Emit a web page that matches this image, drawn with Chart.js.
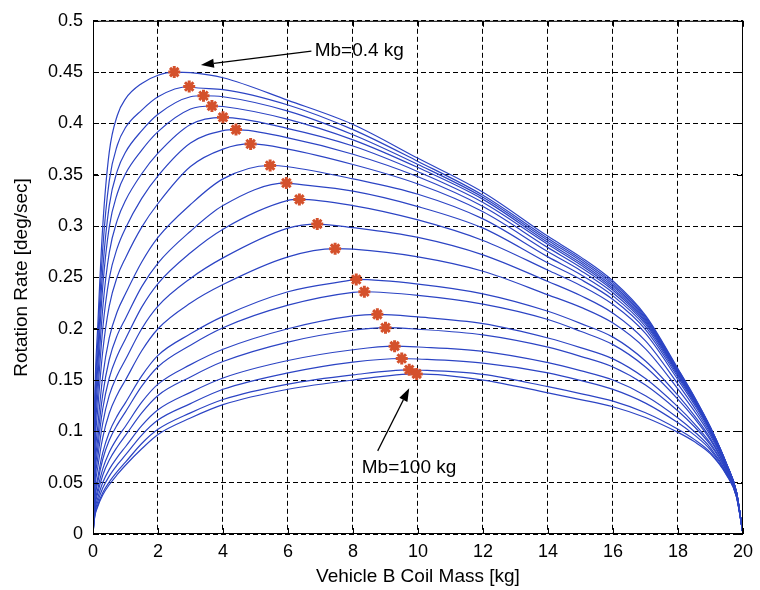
<!DOCTYPE html>
<html>
<head>
<meta charset="utf-8">
<script src="https://cdn.jsdelivr.net/npm/chart.js@4.4.1/dist/chart.umd.min.js"></script>
<style>
  html, body { margin: 0; padding: 0; background: #fff; }
  #wrap { width: 760px; height: 590px; }
</style>
</head>
<body>
<div id="wrap"><canvas id="chart"></canvas></div>
<script>
const coilMass = [0, 0.05, 0.15, 0.3, 0.5, 0.75, 1, 1.5, 2, 3, 4, 6, 8, 10, 12, 14, 15, 16, 17, 18, 18.5, 19, 19.5, 19.8, 20];

// rotation rate [deg/sec], one row per Mb curve (Mb = 0.4 kg at top ... 100 kg at bottom)
const rates = [
  [0, .125, .205, .300, .372, .408, .424, .439, .447, .4495, .4445, .4225, .399, .366, .333, .290, .270, .2465, .213, .161, .134, .104, .068, .041, 0],
  [0, .116, .190, .278, .344, .379, .396, .413, .426, .4355, .433, .418, .394, .363, .330, .288, .2681, .2447, .2117, .1603, .1335, .1037, .0679, .0409, 0],
  [0, .1075, .177, .258, .320, .354, .372, .393, .409, .426, .426, .412, .389, .360, .328, .286, .2662, .2429, .2103, .1595, .1329, .1034, .0677, .0408, 0],
  [0, .100, .165, .241, .299, .332, .351, .374, .392, .414, .4165, .404, .384, .357, .326, .284, .2642, .2411, .209, .1586, .1323, .103, .0676, .0408, 0],
  [0, .092, .1515, .220, .274, .306, .325, .351, .371, .399, .406, .395, .378, .353, .323, .282, .2623, .2392, .2076, .1578, .1317, .1026, .0674, .0407, 0],
  [0, .0834, .1377, .200, .249, .279, .298, .327, .349, .381, .393, .386, .370, .348, .319, .279, .2599, .2374, .2062, .1569, .1311, .1023, .0673, .0407, 0],
  [0, .0745, .123, .178, .222, .251, .269, .299, .322, .358, .375, .375, .360, .341, .314, .275, .2568, .235, .2044, .1558, .1303, .1018, .0671, .0406, 0],
  [0, .064, .106, .1535, .191, .217, .234, .265, .289, .321, .346, .3578, .346, .331, .307, .270, .2528, .232, .2021, .1545, .1294, .1013, .0668, .0405, 0],
  [0, .057, .094, .136, .170, .194, .210, .241, .264, .295, .320, .3418, .334, .319, .298, .264, .2481, .2284, .1992, .1526, .1281, .1005, .0665, .0403, 0],
  [0, .051, .0846, .122, .152, .174, .190, .221, .244, .274, .297, .325, .320, .306, .286, .257, .2422, .2235, .1954, .1502, .1263, .0995, .0661, .0401, 0],
  [0, .045, .075, .108, .135, .155, .170, .200, .222, .249, .269, .298, .2985, .289, .272, .246, .2323, .2151, .1881, .1461, .1234, .0978, .0654, .0398, 0],
  [0, .0394, .0655, .094, .1176, .136, .150, .1785, .200, .225, .243, .270, .2775, .270, .256, .233, .221, .2055, .1804, .1412, .1199, .0957, .0645, .0394, 0],
  [0, .0333, .0553, .0792, .0992, .1153, .128, .154, .174, .195, .212, .236, .2475, .2435, .234, .217, .2052, .1918, .1685, .135, .1155, .0931, .0634, .0389, 0],
  [0, .0306, .0509, .0728, .0913, .1066, .119, .144, .163, .184, .201, .223, .2355, .2325, .224, .209, .1975, .1845, .1627, .1312, .1129, .0915, .0627, .0386, 0],
  [0, .0267, .0445, .0634, .0796, .0936, .105, .1284, .146, .165, .180, .200, .2125, .2115, .205, .191, .1816, .1706, .1514, .1238, .1076, .0884, .0614, .038, 0],
  [0, .0241, .0403, .0573, .072, .085, .096, .118, .135, .153, .168, .187, .1985, .1995, .194, .182, .1731, .1627, .1451, .1198, .1047, .0867, .0607, .0377, 0],
  [0, .0211, .0354, .0501, .063, .0749, .085, .1055, .121, .138, .152, .169, .1795, .1822, .178, .167, .1592, .150, .1347, .113, .0999, .0839, .0595, .0371, 0],
  [0, .0189, .0317, .0448, .0564, .0675, .077, .0964, .111, .127, .141, .157, .1675, .1705, .1665, .157, .1496, .1409, .1275, .1083, .0966, .0819, .0587, .0368, 0],
  [0, .0169, .0285, .0402, .0507, .061, .070, .0882, .102, .118, .131, .146, .155, .1598, .1555, .1435, .1368, .1294, .1181, .1021, .0922, .0793, .0576, .0363, 0],
  [0, .016, .027, .038, .048, .058, .067, .083, .097, .113, .126, .141, .150, .156, .150, .1375, .131, .124, .1135, .099, .090, .078, .057, .036, 0]
];

// peak of each curve (red stars)
const peakMass = [2.50, 2.96, 3.40, 3.66, 4.00, 4.40, 4.85, 5.45, 5.95, 6.35, 6.90, 7.45, 8.10, 8.35, 8.75, 9.00, 9.28, 9.50, 9.73, 9.96];
const peakRate = [0.450, 0.436, 0.427, 0.417, 0.406, 0.394, 0.380, 0.359, 0.342, 0.326, 0.302, 0.278, 0.248, 0.236, 0.214, 0.201, 0.183, 0.171, 0.160, 0.156];

const xTicks = [0, 2, 4, 6, 8, 10, 12, 14, 16, 18, 20];
const yTicks = [0, 0.05, 0.1, 0.15, 0.2, 0.25, 0.3, 0.35, 0.4, 0.45, 0.5];

const font = 'Liberation Sans, Arial, Helvetica, sans-serif';

function curvePoints(row, i) {
  const pts = coilMass.map((m, k) => ({x: m, y: row[k]}))
    .filter(p => Math.abs(p.x - peakMass[i]) > 0.01);
  pts.push({x: peakMass[i], y: peakRate[i]});
  return pts.sort((a, b) => a.x - b.x);
}

const datasets = rates.map((row, i) => ({
  data: curvePoints(row, i),
  borderColor: '#2c44c4',
  borderWidth: 1.2,
  pointRadius: 0,
  cubicInterpolationMode: 'monotone',
  order: 2
}));

datasets.push({
  data: peakMass.map((m, i) => ({x: m, y: peakRate[i]})),
  showLine: false,
  pointStyle: 'star',
  pointRadius: 6,
  borderColor: '#d4512c',
  backgroundColor: '#d4512c',
  pointBorderWidth: 3,
  order: 1
});

// frame, inner tick marks and the two arrow notes
const framePlugin = {
  id: 'frame',
  afterDraw(chart) {
    const {ctx, chartArea: a, scales: {x, y}} = chart;
    ctx.save();
    ctx.strokeStyle = '#000';
    ctx.lineWidth = 1;
    ctx.strokeRect(a.left + 0.5, a.top + 0.5, a.right - a.left - 1, a.bottom - a.top - 1);
    ctx.beginPath();
    xTicks.forEach(v => {
      const px = Math.round(x.getPixelForValue(v)) + 0.5;
      ctx.moveTo(px, a.bottom); ctx.lineTo(px, a.bottom - 6);
      ctx.moveTo(px, a.top); ctx.lineTo(px, a.top + 6);
    });
    yTicks.forEach(v => {
      const py = Math.round(y.getPixelForValue(v)) + 0.5;
      ctx.moveTo(a.left, py); ctx.lineTo(a.left + 6, py);
      ctx.moveTo(a.right, py); ctx.lineTo(a.right - 6, py);
    });
    ctx.stroke();

    const note = (text, tx, ty, fromX, fromY, toX, toY) => {
      const x0 = x.getPixelForValue(fromX), y0 = y.getPixelForValue(fromY);
      const x1 = x.getPixelForValue(toX), y1 = y.getPixelForValue(toY);
      const ang = Math.atan2(y1 - y0, x1 - x0);
      const len = 13, half = 4.5;
      const bx = x1 - len * Math.cos(ang), by = y1 - len * Math.sin(ang);
      ctx.beginPath();
      ctx.moveTo(x0, y0); ctx.lineTo(bx, by);
      ctx.lineWidth = 1.2;
      ctx.stroke();
      ctx.beginPath();
      ctx.moveTo(x1, y1);
      ctx.lineTo(bx + half * Math.sin(ang), by - half * Math.cos(ang));
      ctx.lineTo(bx - half * Math.sin(ang), by + half * Math.cos(ang));
      ctx.closePath();
      ctx.fillStyle = '#000';
      ctx.fill();
      ctx.font = '19px ' + font;
      ctx.textAlign = 'left';
      ctx.textBaseline = 'middle';
      ctx.fillText(text, x.getPixelForValue(tx), y.getPixelForValue(ty));
    };
    note('Mb=0.4 kg', 6.82, 0.4705, 6.72, 0.4705, 3.32, 0.457);
    note('Mb=100 kg', 8.27, 0.0647, 8.76, 0.081, 9.73, 0.142);
    ctx.restore();
  }
};

new Chart(document.getElementById('chart'), {
  type: 'line',
  data: {datasets},
  plugins: [framePlugin],
  options: {
    responsive: true,
    maintainAspectRatio: false,
    animation: false,
    layout: {padding: {left: 0, right: 12, top: 16, bottom: 0}},
    plugins: {legend: {display: false}, tooltip: {enabled: false}},
    scales: {
      x: {
        type: 'linear',
        min: 0,
        max: 20,
        afterBuildTicks: s => { s.ticks = xTicks.map(v => ({value: v})); },
        afterFit: s => { s.height = 56; },
        ticks: {color: '#000', font: {family: font, size: 18}, padding: 7, maxRotation: 0},
        grid: {color: '#000', lineWidth: 1, drawTicks: false},
        border: {display: false, dash: [5, 3]},
        title: {display: true, text: 'Vehicle B Coil Mass [kg]', color: '#000',
          font: {family: font, size: 19}, padding: {top: 0, bottom: 2}}
      },
      y: {
        min: 0,
        max: 0.5,
        afterBuildTicks: s => { s.ticks = yTicks.map(v => ({value: v})); },
        afterFit: s => { s.width = 93; },
        ticks: {color: '#000', font: {family: font, size: 18}, padding: 10,
          callback: v => String(+v.toFixed(2))},
        grid: {color: '#000', lineWidth: 1, drawTicks: false},
        border: {display: false, dash: [5, 3]},
        title: {display: true, text: 'Rotation Rate [deg/sec]', color: '#000',
          font: {family: font, size: 19}, padding: {top: 10, bottom: 0}}
      }
    }
  }
});
</script>
</body>
</html>
